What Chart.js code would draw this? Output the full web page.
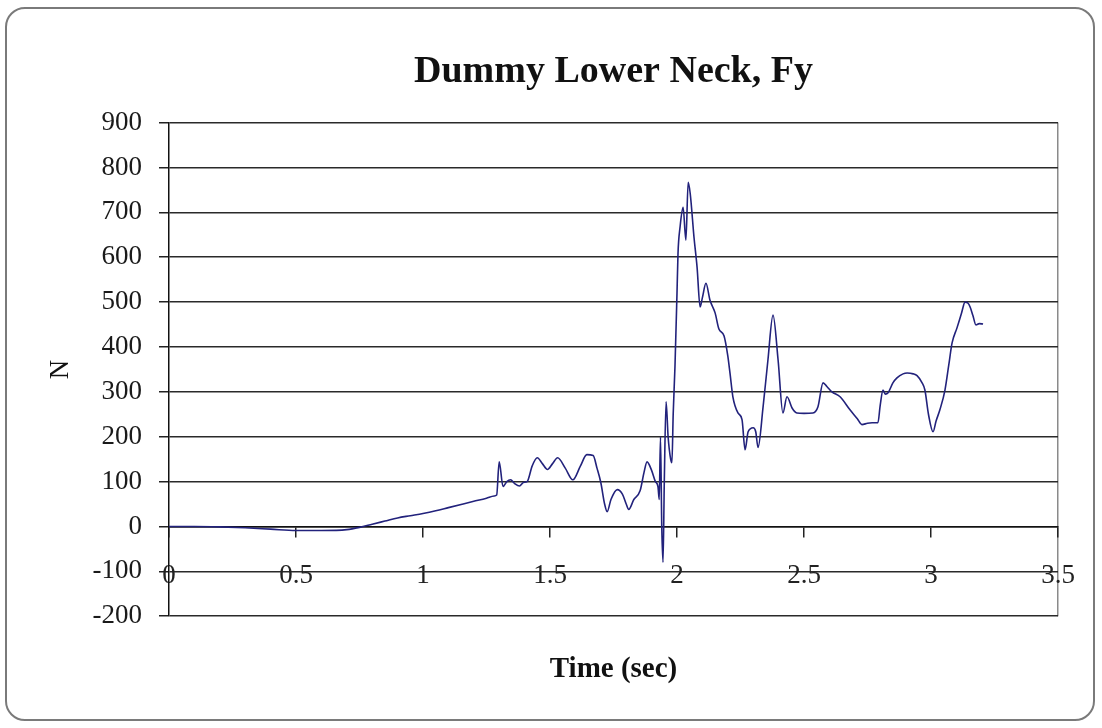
<!DOCTYPE html>
<html><head><meta charset="utf-8">
<script src="https://cdn.jsdelivr.net/npm/chart.js@4.4.1/dist/chart.umd.min.js"></script>
<style>
html,body{margin:0;padding:0;background:#fff;}
#wrap{position:relative;width:1102px;height:728px;overflow:hidden;}
#frame{position:absolute;left:5px;top:7px;width:1090px;height:714px;border:2px solid #7a7a7a;border-radius:20px;box-sizing:border-box;}
canvas{position:absolute;left:0;top:0;}
</style></head><body>
<div id="wrap"><div id="frame"></div><canvas id="c" width="1102" height="728"></canvas></div>
<script>
const chartTitle = 'Dummy Lower Neck, Fy';
const xTitle = 'Time (sec)';
const yTitle = 'N';
const xTickValues = [0, 0.5, 1, 1.5, 2, 2.5, 3, 3.5];
const xTickLabels = ['0', '0.5', '1', '1.5', '2', '2.5', '3', '3.5'];
const yTickValues = [-200, -100, 0, 100, 200, 300, 400, 500, 600, 700, 800, 900];
const timeSec = [
  0, 0.1, 0.2, 0.3, 0.4, 0.5, 0.6, 0.7, 0.75, 0.8, 0.85, 0.9, 0.95, 1.0,
  1.05, 1.1, 1.15, 1.2, 1.25, 1.28, 1.29, 1.3, 1.315, 1.33, 1.345, 1.36, 1.38, 1.395,
  1.41, 1.43, 1.45, 1.47, 1.49, 1.51, 1.53, 1.56, 1.59, 1.62, 1.645, 1.67, 1.685, 1.7,
  1.715, 1.725, 1.74, 1.765, 1.785, 1.8, 1.81, 1.83, 1.855, 1.87, 1.882, 1.9, 1.915, 1.925,
  1.93, 1.935, 1.94, 1.945, 1.95, 1.957, 1.965, 1.975, 1.98, 1.985, 1.992, 2.0, 2.004, 2.012,
  2.024, 2.035, 2.044, 2.052, 2.067, 2.079, 2.091, 2.1, 2.114, 2.13, 2.15, 2.165, 2.185, 2.2,
  2.209, 2.22, 2.24, 2.256, 2.268, 2.28, 2.3, 2.31, 2.319, 2.339, 2.358, 2.378, 2.398, 2.417,
  2.433, 2.453, 2.472, 2.5, 2.535, 2.555, 2.575, 2.59, 2.61, 2.642, 2.681, 2.71, 2.728, 2.75,
  2.768, 2.791, 2.8, 2.811, 2.82, 2.831, 2.85, 2.866, 2.89, 2.906, 2.93, 2.945, 2.965, 2.976,
  2.99, 3.008, 3.02, 3.035, 3.055, 3.07, 3.083, 3.102, 3.12, 3.134, 3.145, 3.154, 3.165, 3.177,
  3.19, 3.205
];
const fyN = [
  0, 0, -1, -3, -6, -9, -9, -7, -2, 5, 12, 19, 24, 29,
  35, 42, 49, 56, 63, 68, 70, 144, 89, 100, 104, 96, 90, 98,
  100, 135, 153, 140, 127, 140, 153, 130, 104, 135, 160, 158, 130, 98,
  50, 33, 60, 82, 72, 50, 38, 60, 80, 120, 144, 125, 100, 89,
  60, 200, 0, -80, 100, 278, 200, 150, 142, 250, 356, 520, 609, 667,
  711, 638, 767, 742, 644, 578, 489, 510, 542, 504, 476, 440, 425, 380,
  340, 289, 253, 238, 171, 211, 220, 211, 176, 267, 371, 471, 371, 253,
  289, 264, 253, 252, 253, 267, 320, 312, 300, 289, 260, 240, 227, 230,
  231, 231, 270, 304, 295, 298, 320, 331, 340, 342, 340, 336, 320, 304,
  250, 211, 235, 260, 304, 360, 409, 442, 475, 500, 498, 489, 470, 449,
  452, 451
];

const serif = "'Liberation Serif', 'Times New Roman', serif";
const points = timeSec.map((t, i) => ({x: t, y: fyN[i]}));

new Chart(document.getElementById('c'), {
  type: 'line',
  data: {
    datasets: [{
      data: points,
      borderColor: '#22227c',
      borderWidth: 1.6,
      pointRadius: 0,
      cubicInterpolationMode: 'monotone',
      fill: false
    }]
  },
  options: {
    responsive: false,
    animation: false,
    devicePixelRatio: 1,
    layout: {padding: {left: 20, right: 44, top: 20, bottom: 31}},
    plugins: {
      legend: {display: false},
      tooltip: {enabled: false},
      title: {
        display: true,
        text: chartTitle,
        fullSize: false,
        color: '#111',
        font: {family: serif, size: 38, weight: 'bold'},
        padding: {top: 29, bottom: 28}
      }
    },
    scales: {
      x: {
        type: 'linear',
        min: 0, max: 3.5,
        position: {y: 0},
        afterBuildTicks: s => { s.ticks = xTickValues.map(v => ({value: v})); },
        ticks: {
          color: '#222', font: {family: serif, size: 27}, padding: 23, maxRotation: 0, autoSkip: false,
          callback: (v) => xTickLabels[xTickValues.indexOf(v)]
        },
        grid: {
          drawOnChartArea: true,
          color: c => (c.tick && c.tick.value === 3.5) ? '#8a8a8a' : 'rgba(0,0,0,0)',
          lineWidth: 1.5,
          tickColor: '#222',
          tickLength: 10
        },
        border: {display: true, color: '#111', width: 1.5}
      },
      x2: {
        type: 'linear',
        min: 0, max: 3.5,
        position: 'bottom',
        ticks: {display: false},
        grid: {display: false, drawTicks: false},
        border: {display: false},
        title: {
          display: true, text: xTitle, color: '#111',
          font: {family: serif, size: 29, weight: 'bold'},
          padding: {top: 36, bottom: 10}
        }
      },
      y: {
        type: 'linear',
        min: -200, max: 900,
        position: 'left',
        afterBuildTicks: s => { s.ticks = yTickValues.map(v => ({value: v})); },
        afterFit: s => { s.width = 149; },
        ticks: {color: '#1a1a1a', font: {family: serif, size: 27}, padding: 17},
        grid: {color: '#2a2a2a', lineWidth: 1.5, tickColor: '#222', tickLength: 10},
        border: {display: true, color: '#111', width: 1.5},
        title: {
          display: true, text: yTitle, color: '#111',
          font: {family: serif, size: 27},
          padding: {top: 25, bottom: 15}
        }
      }
    }
  }
});
</script>
</body></html>
